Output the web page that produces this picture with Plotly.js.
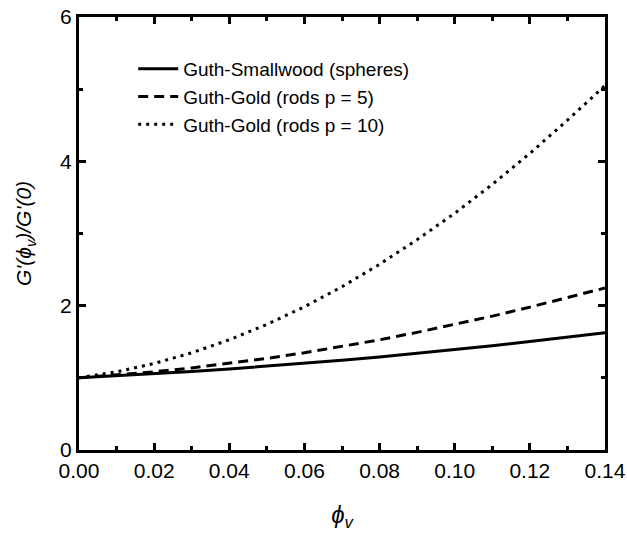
<!DOCTYPE html>
<html>
<head>
<meta charset="utf-8">
<script src="https://cdn.plot.ly/plotly-3.0.1.min.js"></script>
<style>html,body{margin:0;padding:0;background:#fff;}#chart{width:627px;height:533px;}</style>
</head>
<body>
<div id="chart"></div>
<script>
const phi = [0, 0.01, 0.02, 0.03, 0.04, 0.05, 0.06, 0.07, 0.08, 0.09, 0.10, 0.11, 0.12, 0.13, 0.14];
const spheres = [1.00, 1.026, 1.056, 1.088, 1.123, 1.160, 1.201, 1.244, 1.290, 1.339, 1.391, 1.446, 1.503, 1.563, 1.626];
const rods5 = [1.00, 1.038, 1.083, 1.137, 1.199, 1.269, 1.347, 1.433, 1.527, 1.630, 1.740, 1.855, 1.980, 2.110, 2.245];
const rods10 = [1.00, 1.083, 1.199, 1.347, 1.527, 1.740, 1.985, 2.263, 2.573, 2.915, 3.280, 3.680, 4.110, 4.570, 5.050];
const names = ["Guth-Smallwood (spheres)", "Guth-Gold (rods p = 5)", "Guth-Gold (rods p = 10)"];
const xTicks = [0, 0.02, 0.04, 0.06, 0.08, 0.10, 0.12, 0.14];
const xTickText = ["0.00", "0.02", "0.04", "0.06", "0.08", "0.10", "0.12", "0.14"];
const yTicks = [0, 2, 4, 6];

const font = "Arial, 'Liberation Sans', sans-serif";
const traces = [
  {x: phi, y: spheres, name: names[0], mode: 'lines', line: {color: '#000', width: 3, dash: 'solid'}},
  {x: phi, y: rods5, name: names[1], mode: 'lines', line: {color: '#000', width: 3, dash: '10px,6px'}},
  {x: phi, y: rods10, name: names[2], mode: 'lines', line: {color: '#000', width: 3, dash: '3px,5px'}}
];
const axisCommon = {
  showgrid: false, zeroline: false, showline: true, linecolor: '#000', linewidth: 3,
  mirror: 'ticks', ticks: 'inside', tickcolor: '#000', tickwidth: 3, ticklen: 7,
  tickfont: {family: font, size: 21, color: '#000'}
};
const layout = {
  width: 627, height: 533,
  margin: {l: 79, r: 22, t: 17, b: 83},
  paper_bgcolor: '#fff', plot_bgcolor: '#fff',
  showlegend: true,
  legend: {x: 0.103, y: 0.924, xanchor: 'left', yanchor: 'top', bgcolor: 'rgba(0,0,0,0)',
           font: {family: font, size: 19, color: '#000'}, tracegroupgap: 0, itemwidth: 40},
  xaxis: Object.assign({}, axisCommon, {
    range: [0, 0.14], tickmode: 'array', tickvals: xTicks, ticktext: xTickText,
    minor: {dtick: 0.01, ticks: 'inside', ticklen: 4, tickwidth: 3, tickcolor: '#000'},
    title: {text: '<i>ϕ<sub>v</sub></i>', font: {family: font, size: 24, color: '#000'}, standoff: 25}
  }),
  yaxis: Object.assign({}, axisCommon, {
    range: [0, 6], tickmode: 'array', tickvals: yTicks,
    minor: {dtick: 1, ticks: 'inside', ticklen: 4, tickwidth: 3, tickcolor: '#000'},
    title: {text: "<i>G'(ϕ<sub>v</sub>)/G'(0)</i>", font: {family: font, size: 21, color: '#000'}, standoff: 23}
  })
};
Plotly.newPlot('chart', traces, layout, {displayModeBar: false, staticPlot: true});
</script>
</body>
</html>
